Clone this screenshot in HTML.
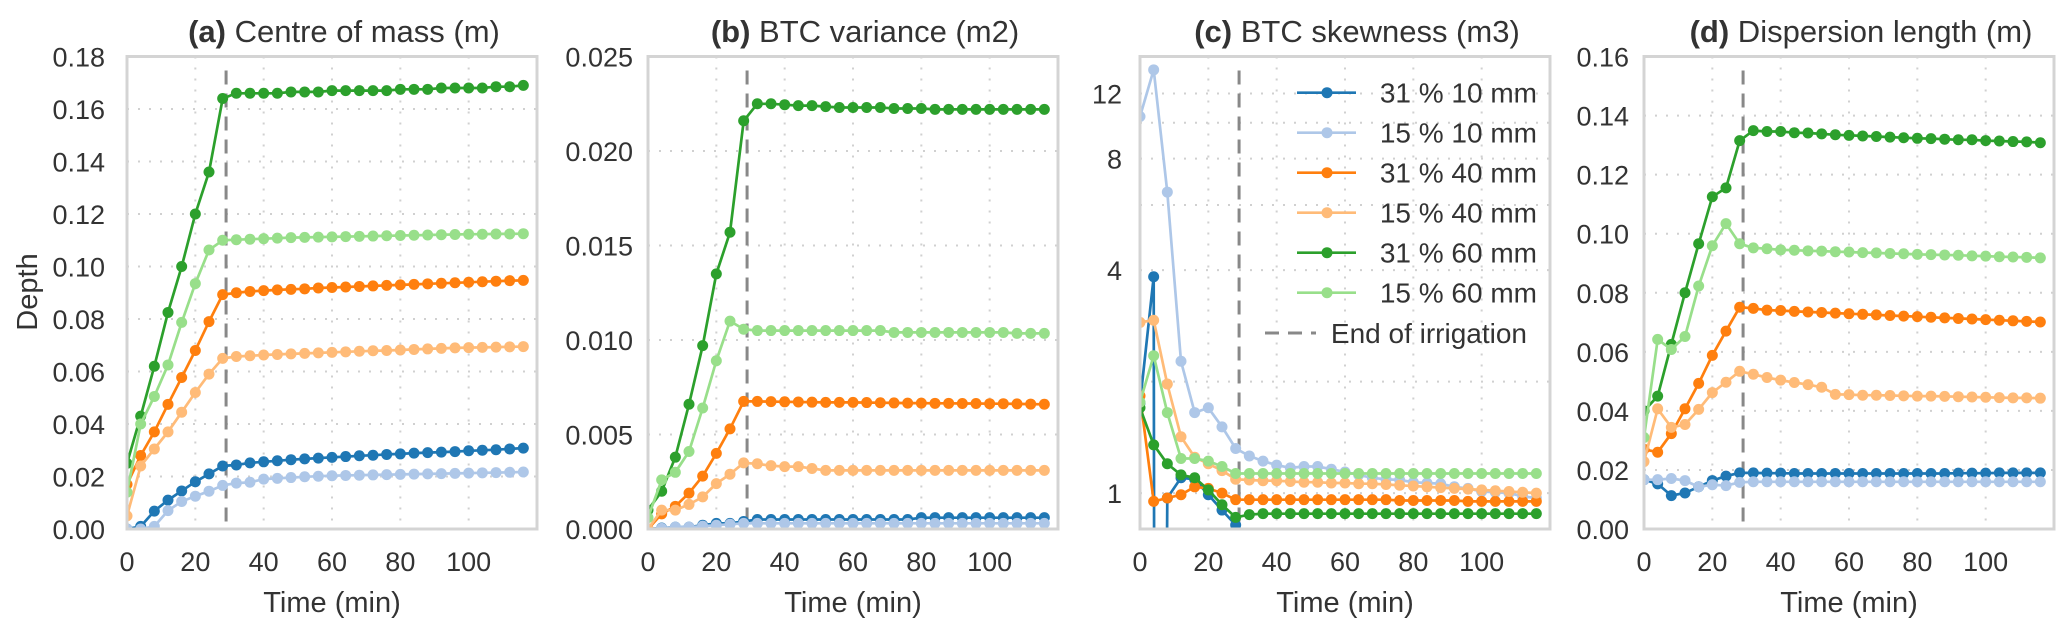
<!DOCTYPE html>
<html><head><meta charset="utf-8"><style>
html,body{margin:0;padding:0;background:#fff;overflow:hidden;}
svg{display:block;font-family:"Liberation Sans",sans-serif;}
</style></head><body>
<svg id="chart" width="2064" height="628" viewBox="0 0 2064 628" xmlns="http://www.w3.org/2000/svg"></svg>
<script>
const times = [0,4,8,12,16,20,24,28,32,36,40,44,48,52,56,60,64,68,72,76,80,84,88,92,96,100,104,108,112,116];
const timesBlueC = [0,4,4.2,7.6,8,12,16,20,24,28,32,36,40,44,48,52,56,60,64,68,72,76,80,84,88,92,96,100,104,108,112,116];
const seriesNames = ["31 % 10 mm","15 % 10 mm","31 % 40 mm","15 % 40 mm","31 % 60 mm","15 % 60 mm"];
const seriesColors = ["#1f77b4","#aec7e8","#ff7f0e","#ffbb78","#2ca02c","#98df8a"];
const endIrrigation = 29;
const xTicks = [0,20,40,60,80,100];

// (a) Centre of mass
const a_b31_10 = [0,0.001,0.0068,0.011,0.0145,0.018,0.021,0.024,0.0244,0.0252,0.0256,0.026,0.0264,0.0267,0.027,0.0273,0.0276,0.0279,0.0281,0.0284,0.0286,0.0289,0.0291,0.0293,0.0295,0.0298,0.0300,0.0302,0.0305,0.0308];
const a_b15_10 = [0,0,0.001,0.007,0.0105,0.0125,0.0144,0.0166,0.0175,0.0178,0.019,0.0193,0.0196,0.0199,0.0201,0.0203,0.0204,0.0205,0.0206,0.0207,0.0208,0.0209,0.021,0.0211,0.0212,0.0213,0.0214,0.0215,0.0216,0.0217];
const a_o31_40 = [0.017,0.028,0.037,0.0475,0.0577,0.068,0.079,0.0893,0.0900,0.0905,0.0908,0.0911,0.0913,0.0915,0.0918,0.092,0.0922,0.0924,0.0926,0.0928,0.093,0.0932,0.0934,0.0936,0.0938,0.094,0.0942,0.0944,0.0946,0.0947];
const a_o15_40 = [0.005,0.024,0.0305,0.037,0.0445,0.052,0.059,0.065,0.0657,0.066,0.0663,0.0665,0.0667,0.0669,0.0671,0.0673,0.0675,0.0677,0.0679,0.068,0.0682,0.0684,0.0686,0.0688,0.069,0.0691,0.0692,0.0693,0.0694,0.0695];
const a_g31_60 = [0.025,0.043,0.062,0.0825,0.100,0.120,0.136,0.164,0.166,0.166,0.166,0.166,0.1665,0.1665,0.1665,0.167,0.167,0.167,0.167,0.167,0.1675,0.1675,0.1675,0.168,0.168,0.168,0.168,0.1685,0.1685,0.169];
const a_g15_60 = [0.014,0.040,0.0505,0.0625,0.0787,0.0935,0.1063,0.110,0.1102,0.1104,0.1106,0.1108,0.111,0.1111,0.1112,0.1113,0.1114,0.1115,0.1116,0.1117,0.1118,0.1119,0.112,0.1121,0.1122,0.1123,0.1123,0.1124,0.1124,0.1125];
const a_yTicks = [0,0.02,0.04,0.06,0.08,0.10,0.12,0.14,0.16,0.18];
const a_yTickLabels = ["0.00","0.02","0.04","0.06","0.08","0.10","0.12","0.14","0.16","0.18"];

// (b) BTC variance
const b_b31_10 = [0,0.00005,0.0001,0.0001,0.0002,0.0003,0.0003,0.0004,0.0005,0.0005,0.0005,0.0005,0.0005,0.0005,0.0005,0.0005,0.0005,0.0005,0.0005,0.0005,0.0006,0.0006,0.0006,0.0006,0.0006,0.0006,0.0006,0.0006,0.0006,0.0006];
const b_b15_10 = [0,0.00003,0.0001,0.0001,0.00015,0.0002,0.00025,0.0003,0.0003,0.0003,0.0003,0.0003,0.0003,0.0003,0.0003,0.0003,0.0003,0.0003,0.0003,0.0003,0.0003,0.0003,0.0003,0.0003,0.0003,0.0003,0.0003,0.0003,0.0003,0.0003];
const b_o31_40 = [0,0.0008,0.0012,0.0019,0.0028,0.004,0.0053,0.00675,0.00675,0.00674,0.00673,0.00672,0.00671,0.0067,0.0067,0.0067,0.00669,0.00668,0.00667,0.00666,0.00666,0.00665,0.00665,0.00664,0.00664,0.00663,0.00663,0.00662,0.00661,0.0066];
const b_o15_40 = [0,0.001,0.001,0.0013,0.0017,0.0024,0.0029,0.0035,0.00345,0.00335,0.0033,0.0033,0.0032,0.0031,0.0031,0.0031,0.0031,0.0031,0.0031,0.0031,0.0031,0.0031,0.0031,0.0031,0.0031,0.0031,0.0031,0.0031,0.0031,0.0031];
const b_g31_60 = [0.001,0.002,0.0038,0.0066,0.0097,0.0135,0.0157,0.0216,0.0225,0.0225,0.02245,0.0224,0.0224,0.02235,0.0223,0.0223,0.0223,0.0223,0.02225,0.02225,0.02225,0.0222,0.0222,0.0222,0.0222,0.0222,0.0222,0.0222,0.0222,0.0222];
const b_g15_60 = [0.0006,0.0026,0.003,0.0041,0.0064,0.0089,0.011,0.01057,0.0105,0.0105,0.0105,0.0105,0.0105,0.0105,0.0105,0.0105,0.0105,0.0105,0.0104,0.0104,0.0104,0.0104,0.0104,0.0104,0.0104,0.0104,0.0104,0.01035,0.01035,0.01035];
const b_yTicks = [0,0.005,0.010,0.015,0.020,0.025];
const b_yTickLabels = ["0.000","0.005","0.010","0.015","0.020","0.025"];

// (c) BTC skewness (log scale)
const c_b31_10 = [1.75,3.84,0.3,0.3,0.97,1.10,1.09,0.99,0.90,0.82,0.75,0.75,0.75,0.75,0.75,0.75,0.75,0.75,0.75,0.75,0.75,0.75,0.75,0.75,0.75,0.75,0.75,0.75,0.75,0.75,0.75,0.75];
const c_b15_10 = [10.4,13.9,6.5,2.27,1.65,1.70,1.51,1.32,1.26,1.22,1.19,1.17,1.18,1.18,1.16,1.14,1.12,1.10,1.09,1.085,1.07,1.065,1.06,1.04,1.03,1.01,1.005,1.0,0.98,0.97];
const c_o31_40 = [1.83,0.95,0.97,0.99,1.04,1.03,1.0,0.96,0.96,0.96,0.96,0.96,0.96,0.96,0.96,0.96,0.96,0.96,0.96,0.955,0.955,0.955,0.955,0.955,0.95,0.95,0.95,0.95,0.95,0.95];
const c_o15_40 = [2.89,2.93,1.97,1.42,1.25,1.20,1.15,1.09,1.085,1.08,1.08,1.075,1.07,1.07,1.065,1.065,1.06,1.06,1.055,1.05,1.045,1.04,1.035,1.03,1.025,1.02,1.015,1.01,1.005,1.0];
const c_g31_60 = [1.70,1.35,1.20,1.12,1.10,1.02,0.93,0.86,0.875,0.88,0.88,0.88,0.88,0.88,0.88,0.88,0.88,0.88,0.88,0.88,0.88,0.88,0.88,0.88,0.88,0.88,0.88,0.88,0.88,0.88];
const c_g15_60 = [1.76,2.35,1.65,1.24,1.24,1.22,1.18,1.13,1.13,1.13,1.13,1.13,1.13,1.13,1.13,1.13,1.13,1.13,1.13,1.13,1.13,1.13,1.13,1.13,1.13,1.13,1.13,1.13,1.13,1.13];
const c_yTicks = [1,4,8,12];
const c_yTickLabels = ["1","4","8","12"];
const c_yGrid = [1,2,4,6,8,10,12];

// (d) Dispersion length
const d_b31_10 = [0.0167,0.0153,0.0113,0.0122,0.0143,0.0164,0.0179,0.019,0.019,0.0189,0.0189,0.0188,0.0188,0.0188,0.0188,0.0188,0.0188,0.0188,0.0188,0.0188,0.0188,0.0188,0.0188,0.0189,0.0189,0.0189,0.019,0.019,0.019,0.019];
const d_b15_10 = [0.0167,0.0167,0.0171,0.0164,0.0143,0.015,0.0147,0.0158,0.016,0.016,0.016,0.016,0.016,0.016,0.016,0.016,0.016,0.016,0.016,0.016,0.016,0.016,0.016,0.016,0.016,0.016,0.016,0.016,0.016,0.016];
const d_o31_40 = [0.027,0.026,0.0323,0.0407,0.0493,0.0588,0.067,0.0751,0.0747,0.0741,0.074,0.0737,0.0735,0.0733,0.0731,0.0729,0.0727,0.0725,0.0723,0.0721,0.0719,0.0717,0.0715,0.0713,0.0711,0.0709,0.0707,0.0705,0.0703,0.0701];
const d_o15_40 = [0.0228,0.0407,0.0344,0.0354,0.0405,0.0462,0.0497,0.0534,0.0524,0.0513,0.0504,0.0496,0.0489,0.048,0.0456,0.0455,0.0453,0.0453,0.0452,0.0451,0.045,0.045,0.0449,0.0448,0.0447,0.0446,0.0445,0.0444,0.0444,0.0443];
const d_g31_60 = [0.040,0.045,0.0625,0.080,0.0966,0.1125,0.1155,0.1315,0.1349,0.1346,0.1346,0.1342,0.1341,0.1338,0.1335,0.1333,0.1331,0.1329,0.1327,0.1325,0.1323,0.1322,0.132,0.1318,0.1318,0.1315,0.1314,0.1312,0.1311,0.1308];
const d_g15_60 = [0.031,0.0642,0.0608,0.0652,0.0823,0.0959,0.1034,0.0966,0.0952,0.0949,0.0945,0.0944,0.0942,0.0941,0.0939,0.0938,0.0936,0.0935,0.0933,0.0932,0.093,0.0929,0.0928,0.0927,0.0925,0.0924,0.0922,0.0921,0.092,0.0918];
const d_yTicks = [0,0.02,0.04,0.06,0.08,0.10,0.12,0.14,0.16];
const d_yTickLabels = ["0.00","0.02","0.04","0.06","0.08","0.10","0.12","0.14","0.16"];

const NS = "http://www.w3.org/2000/svg";
const svg = document.getElementById("chart");
function mk(tag, attrs, parent){
  const e = document.createElementNS(NS, tag);
  for (const k in attrs) e.setAttribute(k, attrs[k]);
  (parent||svg).appendChild(e);
  return e;
}
const TOP = 56.5, BOT = 529, W = 410, XMAX = 120;

function panel(id, left, title, bold, yMin, yMax, log, yTicks, yLabels, yGrid, seriesList, labelGap){
  const g = mk("g", {});
  
  
  const xs = t => left + t / XMAX * W;
  const ys = log
    ? v => BOT - (Math.log10(v) - Math.log10(yMin)) / (Math.log10(yMax) - Math.log10(yMin)) * (BOT - TOP)
    : v => BOT - (v - yMin) / (yMax - yMin) * (BOT - TOP);
  xTicks.forEach(t => { if (t > 0) {
    const l = mk("line", {x1: xs(t), x2: xs(t), y1: TOP, y2: BOT, stroke: "#d0d0d0", "stroke-width": 2, "stroke-dasharray": "2 9"}, g);
    
    
  }});
  yGrid.forEach(v => { if (v > yMin && v < yMax) {
    const l = mk("line", {x1: left, x2: left + W, y1: ys(v), y2: ys(v), stroke: "#d0d0d0", "stroke-width": 2, "stroke-dasharray": "2 9"}, g);
    
    
  }});
  const cp = mk("clipPath", {id: "clip-" + id}, g);
  mk("rect", {x: left, y: TOP, width: W, height: BOT - TOP}, cp);
  const plot = mk("g", {"clip-path": "url(#clip-" + id + ")"}, g);
  const dl = mk("line", {x1: xs(endIrrigation), x2: xs(endIrrigation), y1: TOP + 14, y2: BOT, stroke: "#888", "stroke-width": 3, "stroke-dasharray": "14 9"}, plot);
  
  
  seriesList.forEach((s, i) => {
    const tt = s.t || times;
    const pts = s.v.map((v, j) => xs(tt[j]).toFixed(1) + "," + ys(v).toFixed(1)).join(" ");
    const sg = mk("g", {}, plot);
    
    
    mk("polyline", {points: pts, fill: "none", stroke: seriesColors[i], "stroke-width": 2.7}, sg);
    s.v.forEach((v, j) => {
      if (s.t && (tt[j] % 4 !== 0)) return;
      const c = mk("circle", {cx: xs(tt[j]), cy: ys(v), r: 5.5, fill: seriesColors[i]}, sg);
      
      
    });
  });
  const fr = mk("rect", {x: left, y: TOP, width: W, height: BOT - TOP, fill: "none", stroke: "#d4d4d4", "stroke-width": 3}, g);
  
  
  xTicks.forEach(t => {
    const tx = mk("text", {x: xs(t), y: 571, "text-anchor": "middle", "font-size": 27, fill: "#333"}, g);
    tx.textContent = t;
    
    
  });
  yTicks.forEach((v, k) => {
    const tx = mk("text", {x: left - labelGap, y: ys(v) + 10, "text-anchor": "end", "font-size": 27, fill: "#333"}, g);
    tx.textContent = yLabels[k];
    
    
  });
  const xl = mk("text", {x: left + W / 2, y: 612, "text-anchor": "middle", "font-size": 29, fill: "#333"}, g);
  xl.textContent = "Time (min)";
  
  
  const tl = mk("text", {x: left + W / 2 + 12, y: 42, "text-anchor": "middle", "font-size": 31, fill: "#333"}, g);
  
  
  const tb = mk("tspan", {"font-weight": "bold"}, tl);
  tb.textContent = bold;
  const tr = mk("tspan", {}, tl);
  tr.textContent = title;
}

panel("a", 127, " Centre of mass (m)", "(a)", 0, 0.18, false, a_yTicks, a_yTickLabels, a_yTicks,
  [{v: a_b31_10}, {v: a_b15_10}, {v: a_o31_40}, {v: a_o15_40}, {v: a_g31_60}, {v: a_g15_60}], 22);
panel("b", 648, " BTC variance (m2)", "(b)", 0, 0.025, false, b_yTicks, b_yTickLabels, b_yTicks,
  [{v: b_b31_10}, {v: b_b15_10}, {v: b_o31_40}, {v: b_o15_40}, {v: b_g31_60}, {v: b_g15_60}], 15);
panel("c", 1140, " BTC skewness (m3)", "(c)", 0.80, 15.1, true, c_yTicks, c_yTickLabels, c_yGrid,
  [{v: c_b31_10, t: timesBlueC}, {v: c_b15_10}, {v: c_o31_40}, {v: c_o15_40}, {v: c_g31_60}, {v: c_g15_60}], 18);
panel("d", 1644, " Dispersion length (m)", "(d)", 0, 0.16, false, d_yTicks, d_yTickLabels, d_yTicks,
  [{v: d_b31_10}, {v: d_b15_10}, {v: d_o31_40}, {v: d_o15_40}, {v: d_g31_60}, {v: d_g15_60}], 15);

const yt = mk("text", {x: 0, y: 0, transform: "translate(37,292) rotate(-90)", "text-anchor": "middle", "font-size": 29, fill: "#333"});
yt.textContent = "Depth";



const lg = mk("g", {});


seriesNames.forEach((n, i) => {
  const y = 92.7 + i * 40;
  const e = mk("g", {}, lg);
  
  
  mk("line", {x1: 1297, x2: 1356, y1: y, y2: y, stroke: seriesColors[i], "stroke-width": 2.7}, e);
  mk("circle", {cx: 1327, cy: y, r: 5.5, fill: seriesColors[i]}, e);
  const t = mk("text", {x: 1537, y: y + 10, "text-anchor": "end", "font-size": 28, fill: "#333"}, e);
  t.textContent = n;
});
const le = mk("g", {}, lg);


mk("line", {x1: 1265, x2: 1316, y1: 333, y2: 333, stroke: "#888", "stroke-width": 3, "stroke-dasharray": "14 9"}, le);
const let_ = mk("text", {x: 1527, y: 343, "text-anchor": "end", "font-size": 28, fill: "#333"}, le);
let_.textContent = "End of irrigation";
</script>
</body></html>
